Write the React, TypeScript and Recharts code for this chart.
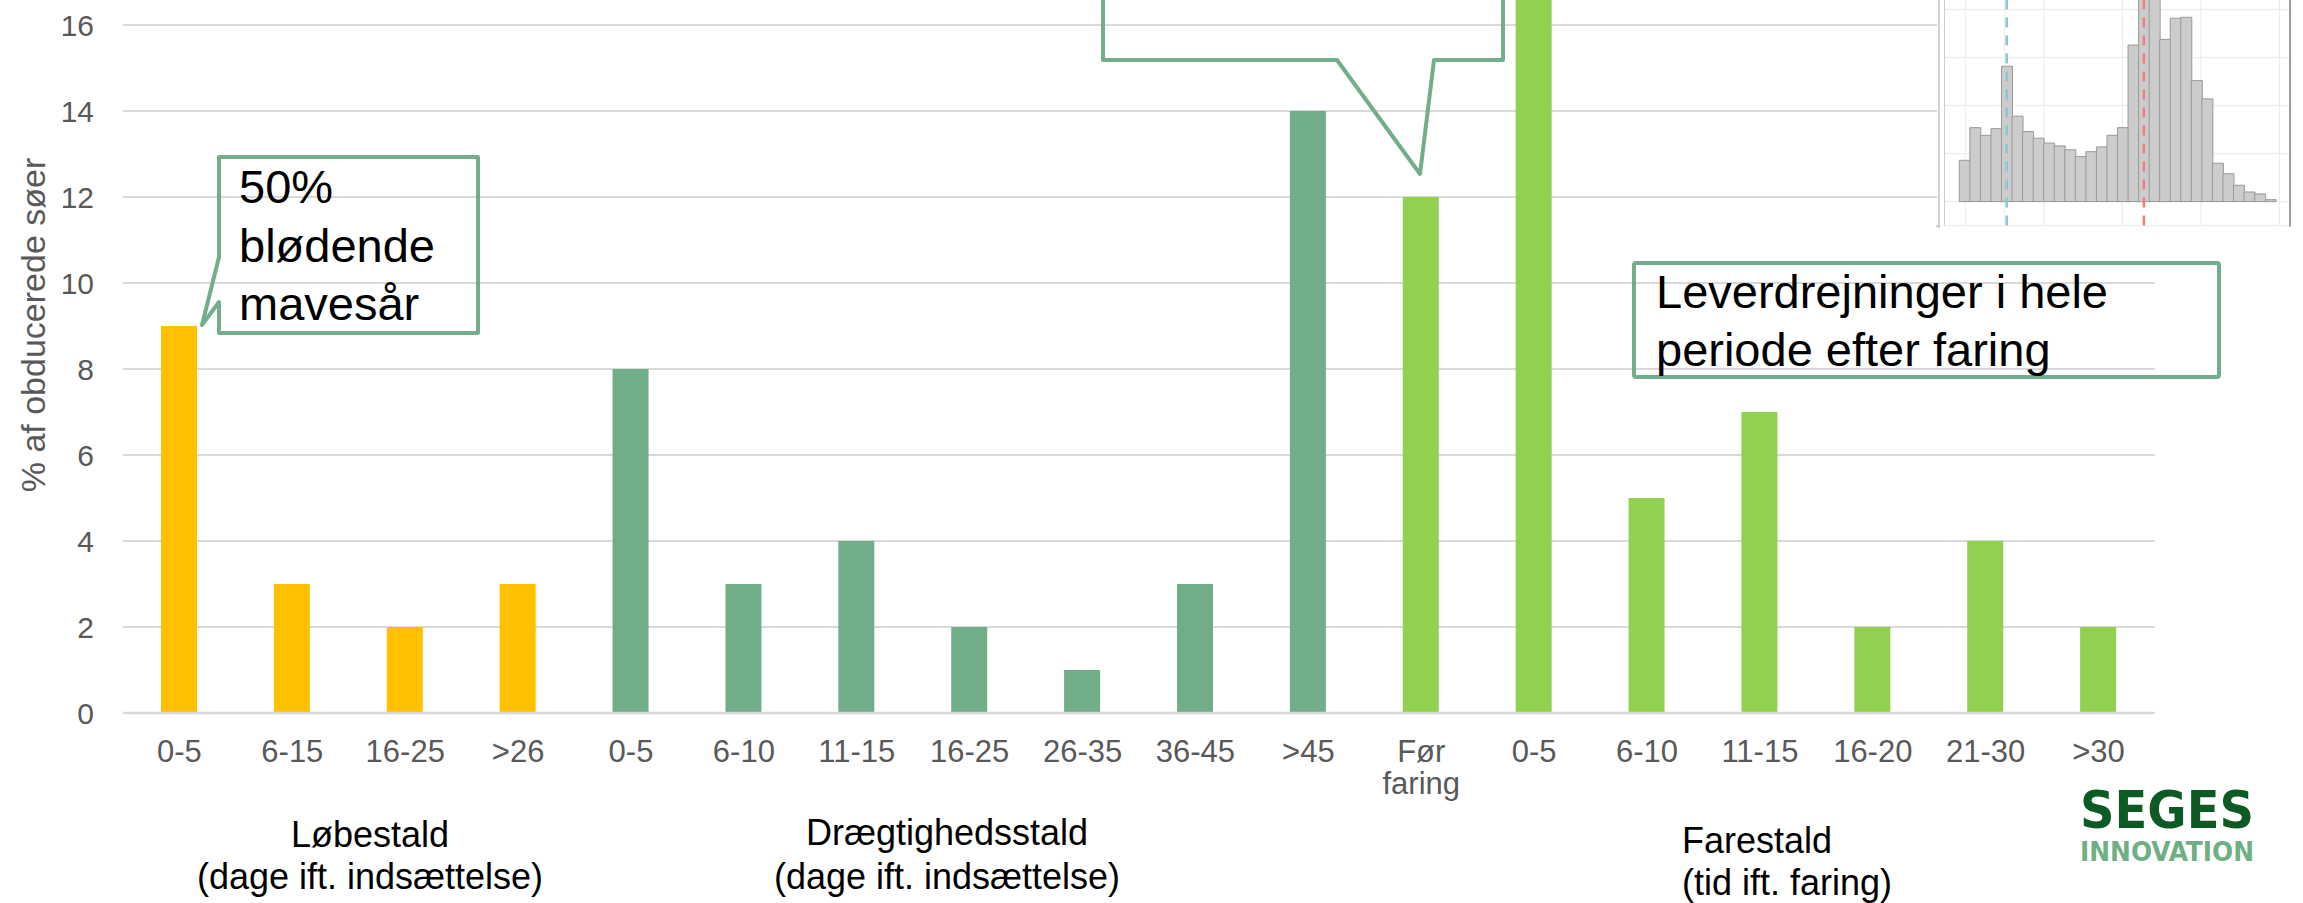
import { BarChart, Bar, XAxis, YAxis, CartesianGrid, Cell, ReferenceLine } from 'recharts';

// andel obducerede søer pr. periode
const categories = [
    '0-5', '6-15', '16-25', '>26',
    '0-5', '6-10', '11-15', '16-25', '26-35', '36-45', '>45',
    'Før faring', '0-5', '6-10', '11-15', '16-20', '21-30', '>30',
];
const shares = [9, 3, 2, 3, 8, 3, 4, 2, 1, 3, 14, 12, 18, 5, 7, 2, 4, 2];
const stables = [
    'lob', 'lob', 'lob', 'lob',
    'draeg', 'draeg', 'draeg', 'draeg', 'draeg', 'draeg', 'draeg',
    'fare', 'fare', 'fare', 'fare', 'fare', 'fare', 'fare',
];
const yTicks = [0, 2, 4, 6, 8, 10, 12, 14, 16];

// lille histogram øverst til højre
const insetCounts = [
    43, 77, 69, 76, 141, 89, 73, 66, 61, 58, 54, 47, 52, 57, 69,
    77, 163, 245, 232, 169, 191, 192, 126, 107, 40, 29, 17, 10, 8, 2,
];
const insetTicks = [0.55, 7.75, 14.95, 22.15, 29.35];
const insetGridTicks = [0.55, 4.15, 7.75, 11.35, 14.95, 18.55, 22.15, 25.75, 29.35];
const insetYTicks = [0, 50, 100, 150, 200, 250];
const insetMarkers = [
    { bin: 5, color: '#8EC3D8' },
    { bin: 18, color: '#EF7F7F' },
];

const stableColors: Record<string, string> = {
    lob: '#FFC000',
    draeg: '#70AD88',
    fare: '#92D050',
};

const mainData = categories.map((label, i) => ({ label, value: shares[i], stable: stables[i] }));
const insetData = insetCounts.map((count, i) => ({ bin: i + 1, count }));

const FONT = '"Liberation Sans", Arial, sans-serif';
const CALLOUT = '#72AE89';
const insetPad = { left: 15.3, right: 14.3 };

const XTick = (props: any) => {
    const { x, y, payload } = props;
    const [first, second] = String(payload.value).split(' ');
    return (
        <g transform={`translate(${x},${y})`}>
            <text x={0} y={49} textAnchor="middle" fontSize={31} fill="#595959">{first}</text>
            {second && (
                <text x={0} y={81} textAnchor="middle" fontSize={31} fill="#595959">{second}</text>
            )}
        </g>
    );
};

const Inset = () => (
    <>
        <div style={{ position: 'absolute', left: 1937, top: 0, width: 360, height: 232, background: '#fff' }} />
        <div style={{ position: 'absolute', left: 1944, top: -47.6 }}>
            <BarChart width={346} height={281.6} data={insetData} margin={{ top: 0, right: 0, bottom: 0, left: 0 }}
                barCategoryGap={0}>
                <CartesianGrid xAxisId="grid" stroke="#EBEBEB" strokeWidth={1} />
                <XAxis xAxisId="bins" dataKey="bin" hide padding={insetPad} />
                <XAxis xAxisId="grid" type="number" domain={[0, 30]} ticks={insetGridTicks} hide padding={insetPad} />
                <XAxis xAxisId="ticks" type="number" domain={[0, 30]} ticks={insetTicks} height={8} tick={false}
                    tickSize={4} tickLine={{ stroke: '#4D4D4D' }} axisLine={{ stroke: '#4D4D4D', strokeWidth: 1.5 }}
                    padding={insetPad} />
                <YAxis hide domain={[-25, 260]} ticks={insetYTicks} />
                <Bar xAxisId="bins" dataKey="count" fill="#CCCCCC" stroke="#999999" strokeWidth={1}
                    isAnimationActive={false} />
                {insetMarkers.map((m) => (
                    <ReferenceLine key={m.bin} xAxisId="bins" x={m.bin} stroke={m.color} strokeWidth={2.5}
                        strokeDasharray="10 8" />
                ))}
            </BarChart>
        </div>
        <svg width={2303} height={903} style={{ position: 'absolute', left: 0, top: 0, pointerEvents: 'none' }}>
            <line x1={1939} y1={0} x2={1939} y2={228} stroke="#A8A8A8" strokeWidth={1} />
            <line x1={1936} y1={226} x2={1939} y2={226} stroke="#A8A8A8" strokeWidth={1} />
            <line x1={1944.5} y1={0} x2={1944.5} y2={226} stroke="#CFCFCF" strokeWidth={1} />
            <line x1={2290} y1={0} x2={2290} y2={226.5} stroke="#7F7F7F" strokeWidth={1.5} />
        </svg>
    </>
);

const Annotations = () => (
    <svg width={2303} height={903} style={{ position: 'absolute', left: 0, top: 0, pointerEvents: 'none' }}
        fontFamily={FONT}>
        <text transform="translate(45,325) rotate(-90)" textAnchor="middle" fontSize={34} fill="#595959">
            % af obducerede søer
        </text>

        <path d="M 219 333 L 478 333 L 478 157 L 219 157 L 219 257 L 202 325 L 219 302 Z"
            fill="none" stroke={CALLOUT} strokeWidth={4} strokeLinejoin="round" />
        <text x={239} fontSize={47} fill="#000">
            <tspan x={239} y={203}>50%</tspan>
            <tspan x={239} y={262}>blødende</tspan>
            <tspan x={239} y={320}>mavesår</tspan>
        </text>

        <path d="M 1103 -10 L 1103 60 L 1337 60 L 1420 174 L 1434 60 L 1503 60 L 1503 -10"
            fill="none" stroke={CALLOUT} strokeWidth={4} strokeLinejoin="round" />

        <rect x={1634} y={263} width={585} height={114} fill="none" stroke={CALLOUT} strokeWidth={4} rx={2} />
        <text fontSize={47} fill="#000">
            <tspan x={1656} y={308}>Leverdrejninger i hele</tspan>
            <tspan x={1656} y={366}>periode efter faring</tspan>
        </text>

        <text textAnchor="middle" fontSize={36} fill="#000">
            <tspan x={370} y={847}>Løbestald</tspan>
            <tspan x={370} y={889}>(dage ift. indsættelse)</tspan>
        </text>
        <text textAnchor="middle" fontSize={36} fill="#000">
            <tspan x={947} y={845}>Drægtighedsstald</tspan>
            <tspan x={947} y={889}>(dage ift. indsættelse)</tspan>
        </text>
        <text fontSize={36} fill="#000">
            <tspan x={1682} y={853}>Farestald</tspan>
            <tspan x={1682} y={895}>(tid ift. faring)</tspan>
        </text>

        <text x={2080} y={828} fontSize={52} fontWeight="bold" fill="#0E5A25" textLength={174}
            lengthAdjust="spacingAndGlyphs" fontFamily='"Liberation Sans Narrow", "DejaVu Sans Condensed", sans-serif'>
            SEGES
        </text>
        <text x={2080} y={861} fontSize={27} fontWeight="bold" fill="#6FAF84" textLength={174}
            lengthAdjust="spacingAndGlyphs" fontFamily='"Liberation Sans Narrow", "DejaVu Sans Condensed", sans-serif'>
            INNOVATION
        </text>
    </svg>
);

export default function App() {
    return (
        <div style={{
            position: 'fixed', left: 0, top: 0, width: 2303, height: 903, overflow: 'hidden',
            background: '#fff', fontFamily: FONT,
        }}>
            <div style={{ position: 'absolute', left: 0, top: -147 }}>
                <BarChart width={2303} height={980} data={mainData} margin={{ top: 0, right: 148, bottom: 0, left: 0 }}
                    barCategoryGap={0}>
                    <CartesianGrid vertical={false} stroke="#D9D9D9" strokeWidth={2} />
                    <XAxis dataKey="label" height={120} interval={0} tickLine={false} tickSize={0} tickMargin={0}
                        axisLine={{ stroke: '#D9D9D9', strokeWidth: 2.5 }} tick={(p: any) => <XTick {...p} />} />
                    <YAxis width={123} domain={[0, 20]} ticks={yTicks} interval={0} tickLine={false} axisLine={false}
                        tickSize={0} tickMargin={29} tick={{ fontSize: 30, fill: '#595959' }} />
                    <Bar dataKey="value" barSize={36} isAnimationActive={false}>
                        {mainData.map((d, i) => (
                            <Cell key={i} fill={stableColors[d.stable]} />
                        ))}
                    </Bar>
                </BarChart>
            </div>
            <Inset />
            <Annotations />
        </div>
    );
}
